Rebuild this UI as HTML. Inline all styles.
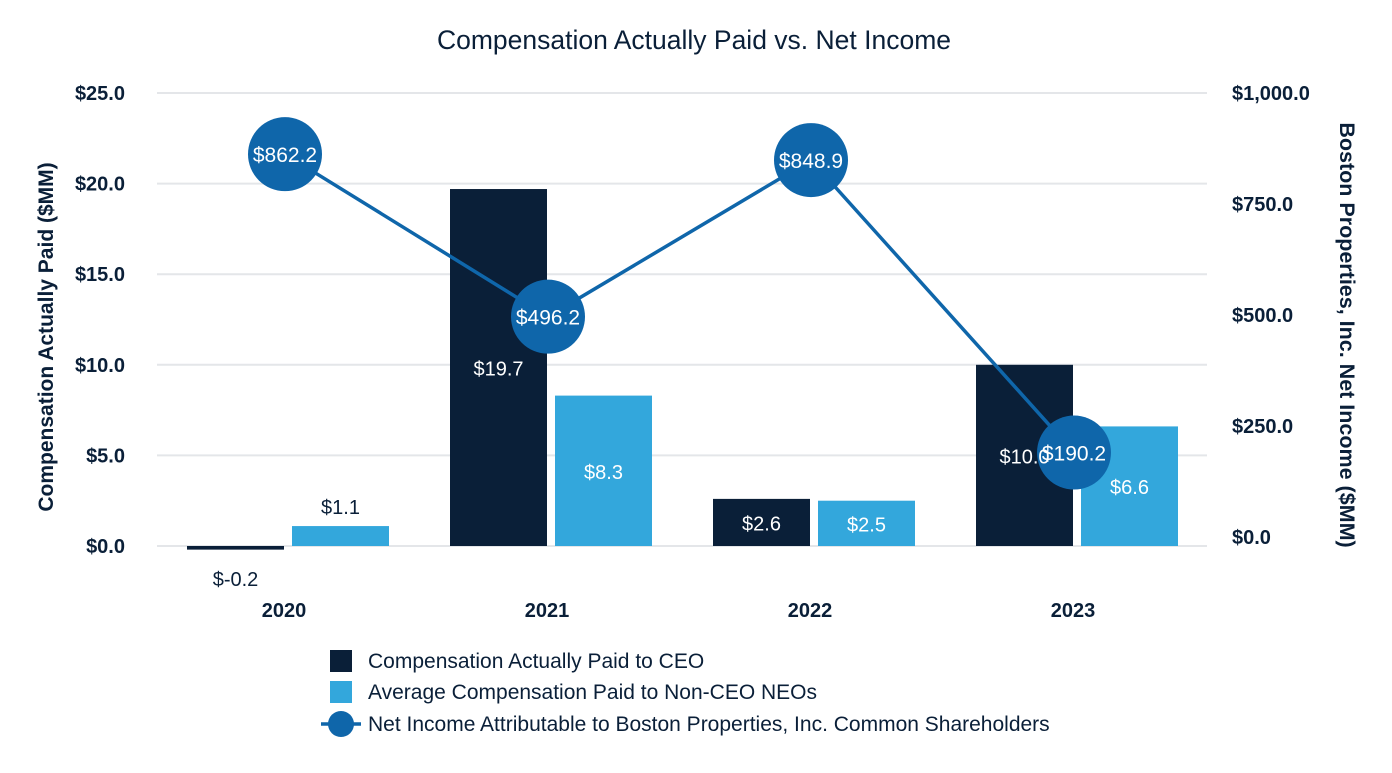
<!DOCTYPE html>
<html><head><meta charset="utf-8"><style>
body{margin:0;background:#fff;width:1392px;height:768px;overflow:hidden;font-family:"Liberation Sans",sans-serif}
</style></head><body>
<svg id="c" width="1392" height="768"></svg>
<script>
const categories=["2020","2021","2022","2023"];
const ceoValues=[-0.2,19.7,2.6,10.0];
const neoValues=[1.1,8.3,2.5,6.6];
const netIncome=[862.2,496.2,848.9,190.2];
const leftTicks=[0,5,10,15,20,25];
const rightTicks=[0,250,500,750,1000];
const NS="http://www.w3.org/2000/svg";
const svg=document.getElementById('c');
function mk(t,a,p){const e=document.createElementNS(NS,t);for(const k in a)e.setAttribute(k,a[k]);(p||svg).appendChild(e);return e;}
const yL=v=>546-v*(453/25);
const yR=v=>537-v*(444/1000);
const xC=i=>284+i*263;
const fmt=v=>"$"+v.toFixed(1);
const fmtR=v=>"$"+v.toLocaleString("en-US",{minimumFractionDigits:1,maximumFractionDigits:1});
let t=mk('text',{x:694,y:49,'text-anchor':'middle','font-size':26.5,fill:'#0a1f38'});t.textContent="Compensation Actually Paid vs. Net Income";

leftTicks.forEach(v=>{const g=mk('line',{x1:157,x2:1207,y1:yL(v),y2:yL(v),stroke:'#e4e6e9','stroke-width':2});

const l=mk('text',{x:125,y:yL(v)+7,'text-anchor':'end','font-size':20,'font-weight':'bold',fill:'#0a1f38'});l.textContent=fmt(v);
});
rightTicks.forEach(v=>{const l=mk('text',{x:1232,y:yR(v)+7,'font-size':20,'font-weight':'bold',fill:'#0a1f38'});l.textContent=fmtR(v);
});
t=mk('text',{x:53,y:337,'text-anchor':'middle','font-size':21,'font-weight':'bold',fill:'#0a1f38',transform:'rotate(-90 53 337)'});t.textContent="Compensation Actually Paid ($MM)";

t=mk('text',{x:1340,y:335,'text-anchor':'middle','font-size':21.5,'font-weight':'bold',fill:'#0a1f38',transform:'rotate(90 1340 335)'});t.textContent="Boston Properties, Inc. Net Income ($MM)";

const labels=[];
categories.forEach((c,i)=>{
 const cx=xC(i);
 const l=mk('text',{x:cx,y:617,'text-anchor':'middle','font-size':20,'font-weight':'bold',fill:'#0a1f38'});l.textContent=c;
 
 [[ceoValues[i],cx-97,'#0a1f38'],[neoValues[i],cx+8,'#33a7dc']].forEach(([v,x,col],k)=>{
  const y0=yL(0),y1=yL(v);const top=Math.min(y0,y1),h=Math.max(Math.abs(y1-y0),3);
  const r=mk('rect',{x:x,y:top,width:97,height:h,fill:col});
  
  let ly;if(v<0)ly=y0+40;else if(h<40)ly=top-12;else ly=top+h/2+8;
  labels.push([x+48.5,ly,v,v>0&&h>=40]);
 });
});
const pts=netIncome.map((v,i)=>[xC(i)+1,yR(v)]);
const pl=mk('polyline',{points:pts.map(p=>p.join(',')).join(' '),fill:'none',stroke:'#0f66aa','stroke-width':3.5});

pts.forEach((p,i)=>{const ci=mk('circle',{cx:p[0],cy:p[1],r:37,fill:'#0f66aa'});
});
labels.forEach(([x,y,v,inside])=>{
  const tx=mk('text',{x:x,y:y,'text-anchor':'middle','font-size':20,fill:inside?'#fff':'#0a1f38'});tx.textContent=fmt(v);
  });
pts.forEach((p,i)=>{
const tx=mk('text',{x:p[0],y:p[1]+8,'text-anchor':'middle','font-size':21,fill:'#fff'});tx.textContent=fmtR(netIncome[i]);
});
const leg=[["Compensation Actually Paid to CEO",'#0a1f38'],["Average Compensation Paid to Non-CEO NEOs",'#33a7dc']];
leg.forEach(([s,c],i)=>{const y=661+i*31;
const r=mk('rect',{x:330,y:y-11,width:22,height:22,fill:c});
const tx=mk('text',{x:368,y:y+7,'font-size':21,fill:'#0a1f38'});tx.textContent=s;});
let ll=mk('line',{x1:321,x2:361,y1:724,y2:724,stroke:'#0f66aa','stroke-width':3.5});
ll=mk('circle',{cx:341,cy:724,r:13,fill:'#0f66aa'});
t=mk('text',{x:368,y:731,'font-size':21,fill:'#0a1f38'});t.textContent="Net Income Attributable to Boston Properties, Inc. Common Shareholders";

</script>
</body></html>
